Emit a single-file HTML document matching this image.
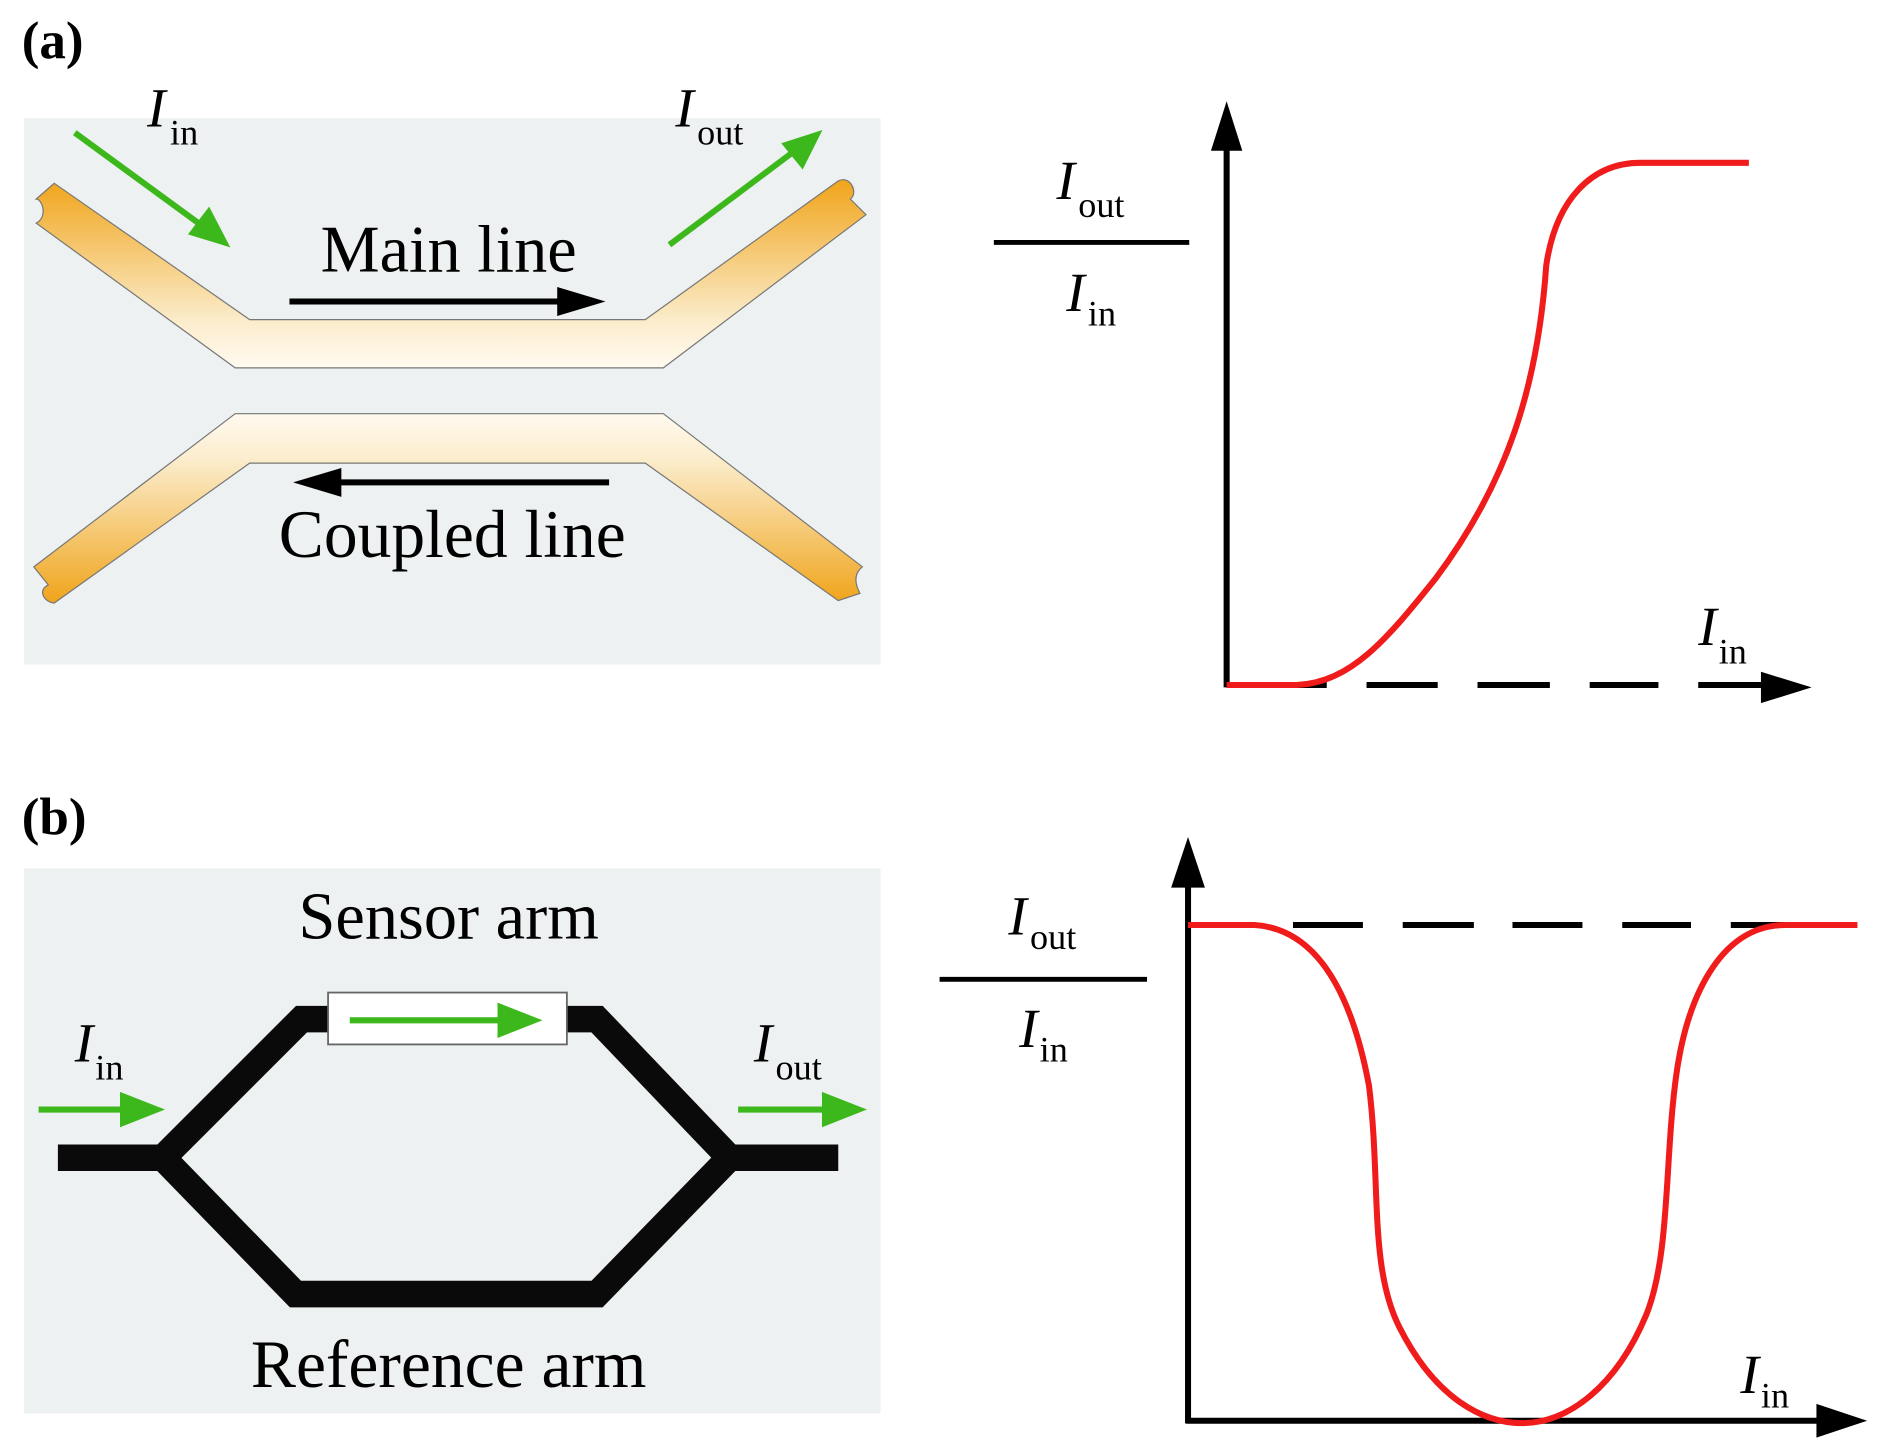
<!DOCTYPE html>
<html><head><meta charset="utf-8"><style>html,body{margin:0;padding:0;background:#fff}svg{display:block}</style></head>
<body>
<svg width="1890" height="1440" viewBox="0 0 1567 1194" preserveAspectRatio="none" xmlns="http://www.w3.org/2000/svg" font-family="Liberation Serif, serif">
<defs>
<linearGradient id="g1" x1="0" y1="0" x2="0" y2="1"><stop offset="0" stop-color="#f0a41a"/><stop offset="0.75" stop-color="#fbeccb"/><stop offset="1" stop-color="#fffaf0"/></linearGradient>
<linearGradient id="g2" x1="0" y1="1" x2="0" y2="0"><stop offset="0" stop-color="#f0a41a"/><stop offset="0.75" stop-color="#fbeccb"/><stop offset="1" stop-color="#fffaf0"/></linearGradient>
</defs>
<text x="18" y="48" font-size="44" font-weight="bold">(a)</text>
<text x="18" y="692" font-size="44" font-weight="bold">(b)</text>
<rect x="20" y="98" width="710" height="453" fill="#eef1f1"/>
<path d="M45,152 L207,265 L535,265 L695,150 C705,145 712,160 705,165 L718,178 L550,305 L195,305 L30,185 C40,180 35,165 30,165z" fill="url(#g1)" stroke="#777" stroke-width="1"/>
<path d="M28,470 L195,343 L550,343 L715,470 C705,478 712,490 713,492 L695,498 L535,384 L207,384 L45,500 C38,500 30,490 40,485z" fill="url(#g2)" stroke="#777" stroke-width="1"/>
<g stroke="#3cb81c" stroke-width="5" fill="#3cb81c">
<line x1="62" y1="110" x2="170" y2="189"/><path d="M186,201 L160,193 L173,176z"/>
<line x1="555" y1="203" x2="663" y2="122"/><path d="M677,112 L665,136 L652,120z"/>
</g>
<line x1="240" y1="250" x2="470" y2="250" stroke="#000" stroke-width="5"/><path d="M502,250 L462,238 L462,262z"/>
<line x1="505" y1="400" x2="275" y2="400" stroke="#000" stroke-width="5"/><path d="M243,400 L283,388 L283,412z"/>
<text x="372" y="225" font-size="55" text-anchor="middle">Main line</text>
<text x="375" y="462" font-size="56" text-anchor="middle">Coupled line</text>
<text x="122" y="105" font-size="46" font-style="italic">I</text><text x="141" y="120" font-size="30">in</text>
<text x="560" y="105" font-size="46" font-style="italic">I</text><text x="578" y="120" font-size="30">out</text>
<!-- plot a -->
<line x1="1017" y1="570" x2="1017" y2="120" stroke="#000" stroke-width="5"/><path d="M1017,84 L1004,125 L1030,125z"/>
<g stroke="#000" stroke-width="5">
<line x1="1017" y1="568" x2="1100" y2="568"/>
<line x1="1133" y1="568" x2="1192" y2="568"/>
<line x1="1225" y1="568" x2="1285" y2="568"/>
<line x1="1318" y1="568" x2="1375" y2="568"/>
<line x1="1408" y1="568" x2="1470" y2="568"/>
</g>
<path d="M1502,570 L1460,557 L1460,583z"/>
<path d="M1017,568 L1075,568 C1120,566 1150,530 1190,480 C1250,400 1275,320 1282,220 C1290,165 1320,135 1360,135 L1450,135" fill="none" stroke="#f01c1c" stroke-width="5"/>
<line x1="824" y1="201" x2="986" y2="201" stroke="#000" stroke-width="4"/>
<text x="876" y="165" font-size="46" font-style="italic">I</text><text x="894" y="180" font-size="30">out</text>
<text x="884" y="258" font-size="46" font-style="italic">I</text><text x="902" y="270" font-size="30">in</text>
<text x="1408" y="535" font-size="46" font-style="italic">I</text><text x="1425" y="550" font-size="30">in</text>
<!-- panel b -->
<rect x="20" y="720" width="710" height="452" fill="#eef1f1"/>
<g stroke="#0a0a0a" stroke-width="22" fill="none" stroke-linejoin="miter">
<path d="M48,960 L135,960 L250,845 L275,845"/>
<path d="M470,845 L495,845 L605,960 L695,960"/>
<path d="M135,960 L245,1073 L495,1073 L605,960"/>
</g>
<rect x="272" y="823" width="198" height="43" fill="#fff" stroke="#666" stroke-width="1.5"/>
<g stroke="#3cb81c" stroke-width="5" fill="#3cb81c">
<line x1="290" y1="846" x2="420" y2="846"/><path d="M443,846 L415,835 L415,857z"/>
<line x1="32" y1="920" x2="105" y2="920"/><path d="M130,920 L102,909 L102,931z"/>
<line x1="612" y1="920" x2="688" y2="920"/><path d="M712,920 L684,909 L684,931z"/>
</g>
<text x="372" y="778" font-size="55" text-anchor="middle">Sensor arm</text>
<text x="372" y="1150" font-size="56" text-anchor="middle">Reference arm</text>
<text x="62" y="880" font-size="46" font-style="italic">I</text><text x="79" y="895" font-size="30">in</text>
<text x="625" y="880" font-size="46" font-style="italic">I</text><text x="643" y="895" font-size="30">out</text>
<!-- plot b -->
<line x1="985" y1="1180" x2="985" y2="730" stroke="#000" stroke-width="5"/><path d="M985,694 L971,736 L999,736z"/>
<line x1="983" y1="1178" x2="1515" y2="1178" stroke="#000" stroke-width="5"/><path d="M1548,1178 L1506,1164 L1506,1192z"/>
<g stroke="#000" stroke-width="5">
<line x1="985" y1="767" x2="1040" y2="767"/>
<line x1="1072" y1="767" x2="1130" y2="767"/>
<line x1="1163" y1="767" x2="1222" y2="767"/>
<line x1="1254" y1="767" x2="1312" y2="767"/>
<line x1="1345" y1="767" x2="1402" y2="767"/>
<line x1="1435" y1="767" x2="1490" y2="767"/>
</g>
<path d="M985,767 L1040,767 C1090,770 1120,820 1135,900 C1145,980 1135,1050 1160,1100 C1190,1160 1230,1180 1262,1180 C1300,1180 1340,1150 1365,1090 C1385,1040 1380,960 1390,890 C1400,820 1430,767 1480,767 L1540,767" fill="none" stroke="#f01c1c" stroke-width="5"/>
<line x1="779" y1="812" x2="951" y2="812" stroke="#000" stroke-width="4"/>
<text x="836" y="775" font-size="46" font-style="italic">I</text><text x="854" y="787" font-size="30">out</text>
<text x="845" y="868" font-size="46" font-style="italic">I</text><text x="862" y="880" font-size="30">in</text>
<text x="1443" y="1155" font-size="46" font-style="italic">I</text><text x="1460" y="1167" font-size="30">in</text>
</svg>
</body></html>
